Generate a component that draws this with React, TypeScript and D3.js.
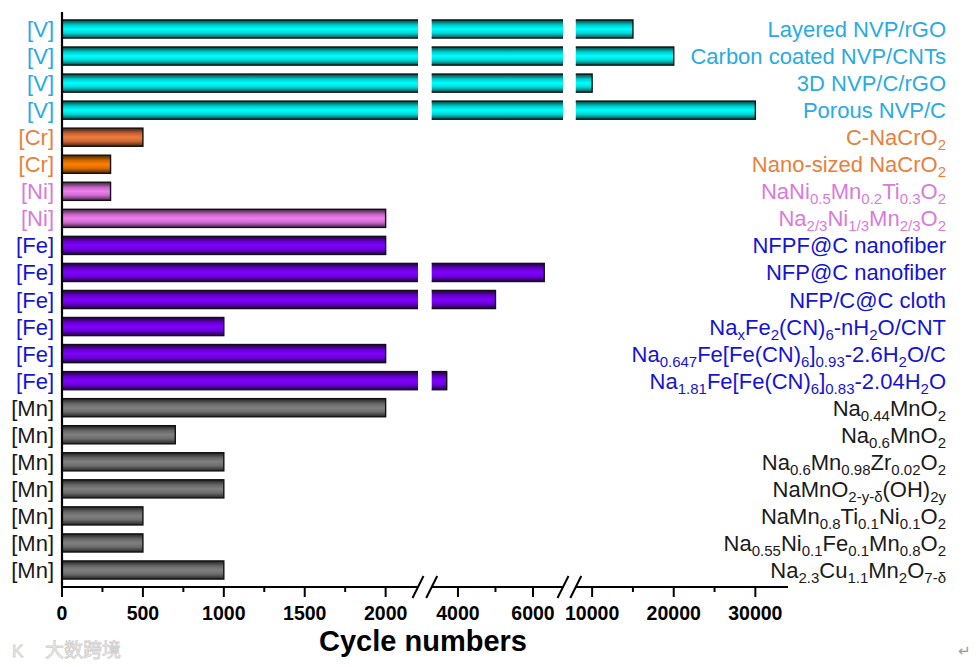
import React from "react";
import * as d3 from "d3";

const labels = [
  "Layered NVP/rGO",
  "Carbon coated NVP/CNTs",
  "3D NVP/C/rGO",
  "Porous NVP/C",
  "C-NaCrO_{2}",
  "Nano-sized NaCrO_{2}",
  "NaNi_{0.5}Mn_{0.2}Ti_{0.3}O_{2}",
  "Na_{2/3}Ni_{1/3}Mn_{2/3}O_{2}",
  "NFPF@C nanofiber",
  "NFP@C nanofiber",
  "NFP/C@C cloth",
  "Na_{x}Fe_{2}(CN)_{6}-nH_{2}O/CNT",
  "Na_{0.647}Fe[Fe(CN)_{6}]_{0.93}-2.6H_{2}O/C",
  "Na_{1.81}Fe[Fe(CN)_{6}]_{0.83}-2.04H_{2}O",
  "Na_{0.44}MnO_{2}",
  "Na_{0.6}MnO_{2}",
  "Na_{0.6}Mn_{0.98}Zr_{0.02}O_{2}",
  "NaMnO_{2-y-δ}(OH)_{2y}",
  "NaMn_{0.8}Ti_{0.1}Ni_{0.1}O_{2}",
  "Na_{0.55}Ni_{0.1}Fe_{0.1}Mn_{0.8}O_{2}",
  "Na_{2.3}Cu_{1.1}Mn_{2}O_{7-δ}",
];
const elements = [
  "V", "V", "V", "V", "Cr", "Cr", "Ni", "Ni",
  "Fe", "Fe", "Fe", "Fe", "Fe", "Fe",
  "Mn", "Mn", "Mn", "Mn", "Mn", "Mn", "Mn",
];
const cycles = [
  15000, 20000, 10000, 30000, 500, 300, 300, 2000,
  2000, 6300, 5000, 1000, 2000, 3700,
  2000, 700, 1000, 1000, 500, 500, 1000,
];
const barColors = [
  "#00FFFF", "#00FFFF", "#00FFFF", "#00FFFF", "#F27B3E", "#FF8000", "#F27EF2", "#F27EF2",
  "#7F00FF", "#7F00FF", "#7F00FF", "#7F00FF", "#7F00FF", "#7F00FF",
  "#808080", "#808080", "#808080", "#808080", "#808080", "#808080", "#808080",
];
const textColors: Record<string, string> = {
  V: "#29ABE2",
  Cr: "#E8803C",
  Ni: "#D97BD9",
  Fe: "#1414D2",
  Mn: "#1a1a1a",
};

// broken axis segments
const segDomains: [number, number][] = [
  [0, 2200],
  [3300, 6800],
  [8000, 34000],
];
const segRanges: [number, number][] = [
  [62, 418],
  [431.7, 563],
  [575.8, 788],
];
const majorTicks = [
  [0, 500, 1000, 1500, 2000],
  [4000, 6000],
  [10000, 20000, 30000],
];
const minorTicks = [
  [250, 750, 1250, 1750],
  [5000],
  [15000, 25000],
];

function parseFormula(s: string) {
  const parts: { t: string; sub: boolean }[] = [];
  const re = /_\{([^}]*)\}/g;
  let last = 0;
  let m: RegExpExecArray | null;
  while ((m = re.exec(s))) {
    if (m.index > last) parts.push({ t: s.slice(last, m.index), sub: false });
    parts.push({ t: m[1], sub: true });
    last = re.lastIndex;
  }
  if (last < s.length) parts.push({ t: s.slice(last), sub: false });
  return parts;
}

function shade(c: string, k: number) {
  const col = d3.rgb(c);
  return d3.rgb(col.r * k, col.g * k, col.b * k).formatHex();
}

export default function App() {
  const W = 979;
  const H = 667;
  const axisY = 587;
  const font = "'Liberation Sans', Arial, Helvetica, sans-serif";
  const scales = segDomains.map((d, i) => d3.scaleLinear().domain(d).range(segRanges[i]));
  const ids = labels.map((_, i) => i);
  const y = d3.scalePoint<number>().domain(ids).range([29, 570]);
  const barH = y.step() * 0.67;
  const uniqueColors = Array.from(new Set(barColors));

  return (
    <svg
      width={W}
      height={H}
      style={{ position: "absolute", left: 0, top: 0, background: "#fff" }}
      fontFamily={font}
    >
      <defs>
        {uniqueColors.map((c, i) => (
          <linearGradient key={c} id={`g${i}`} x1="0" y1="0" x2="0" y2="1">
            <stop offset="0" stopColor={shade(c, 0.25)} />
            <stop offset="0.28" stopColor={shade(c, 0.8)} />
            <stop offset="0.5" stopColor={c} />
            <stop offset="0.72" stopColor={shade(c, 0.85)} />
            <stop offset="1" stopColor={shade(c, 0.3)} />
          </linearGradient>
        ))}
        {segRanges.map((r, i) => (
          <clipPath key={i} id={`clip${i}`}>
            <rect x={r[0]} y={0} width={r[1] - r[0]} height={axisY} />
          </clipPath>
        ))}
      </defs>

      {/* bars */}
      {scales.map((s, si) => (
        <g key={si} clipPath={`url(#clip${si})`}>
          {cycles.map((v, i) => {
            const [d0, d1] = segDomains[si];
            if (v <= d0) return null;
            const x0 = si === 0 ? s(0) : s(d0) - 5;
            const x1 = v > d1 ? s(d1) + 5 : s(v);
            const gi = uniqueColors.indexOf(barColors[i]);
            return (
              <rect
                key={i}
                x={x0}
                y={(y(i) as number) - barH / 2}
                width={x1 - x0}
                height={barH}
                fill={`url(#g${gi})`}
                stroke="#111"
                strokeWidth={1.4}
              />
            );
          })}
        </g>
      ))}

      {/* left axis */}
      <line x1={62} y1={12} x2={62} y2={axisY + 1} stroke="#000" strokeWidth={2.2} />

      {/* bottom axis segments */}
      {scales.map((s, si) => {
        const [r0, r1] = segRanges[si];
        return (
          <g key={si}>
            <line x1={si === 0 ? 61 : r0} y1={axisY} x2={r1} y2={axisY} stroke="#000" strokeWidth={2} />
            {majorTicks[si].map((t) => (
              <g key={t}>
                <line x1={s(t)} x2={s(t)} y1={axisY} y2={axisY + 10} stroke="#000" strokeWidth={2} />
                <text
                  x={s(t)}
                  y={620}
                  textAnchor="middle"
                  fontWeight="bold"
                  fontSize={19.5}
                  fill="#000"
                >
                  {d3.format("d")(t)}
                </text>
              </g>
            ))}
            {minorTicks[si].map((t) => (
              <line key={t} x1={s(t)} x2={s(t)} y1={axisY} y2={axisY + 5} stroke="#000" strokeWidth={2} />
            ))}
          </g>
        );
      })}

      {/* break marks */}
      {[segRanges[0][1], segRanges[1][0], segRanges[1][1], segRanges[2][0]].map((x, i) => (
        <line
          key={i}
          x1={x - 5.5}
          y1={axisY + 11}
          x2={x + 5.5}
          y2={axisY - 11}
          stroke="#000"
          strokeWidth={2}
        />
      ))}

      {/* left element labels */}
      {elements.map((e, i) => (
        <text
          key={i}
          x={54}
          y={(y(i) as number) + 8}
          textAnchor="end"
          fontSize={22}
          fill={textColors[e]}
        >
          [{e}]
        </text>
      ))}

      {/* right material labels */}
      {labels.map((l, i) => {
        const parts = parseFormula(l);
        return (
          <text
            key={i}
            x={946}
            y={(y(i) as number) + 8}
            textAnchor="end"
            fontSize={22}
            fill={textColors[elements[i]]}
          >
            {parts.map((p, j) =>
              p.sub ? (
                <tspan key={j} fontSize={15} dy={j > 0 && parts[j - 1].sub ? 0 : 5}>
                  {p.t}
                </tspan>
              ) : (
                <tspan key={j} dy={j > 0 && parts[j - 1].sub ? -5 : 0}>
                  {p.t}
                </tspan>
              )
            )}
          </text>
        );
      })}

      {/* axis title */}
      <text x={423} y={651} textAnchor="middle" fontWeight="bold" fontSize={29} fill="#000">
        Cycle numbers
      </text>

      {/* watermark and page mark */}
      <text
        x={45}
        y={657}
        fontSize={19}
        fill="#f4f4f4"
        stroke="#d0d0d0"
        strokeWidth={0.8}
        fontFamily="'Noto Sans CJK SC', sans-serif"
      >
        大数跨境
      </text>
      <text x={12} y={657} fontSize={17} fill="#f4f4f4" stroke="#d0d0d0" strokeWidth={0.8}>
        K
      </text>
      <text x={958} y={656} fontSize={15} fill="#999" fontFamily="'DejaVu Sans', sans-serif">
        ↵
      </text>
    </svg>
  );
}
